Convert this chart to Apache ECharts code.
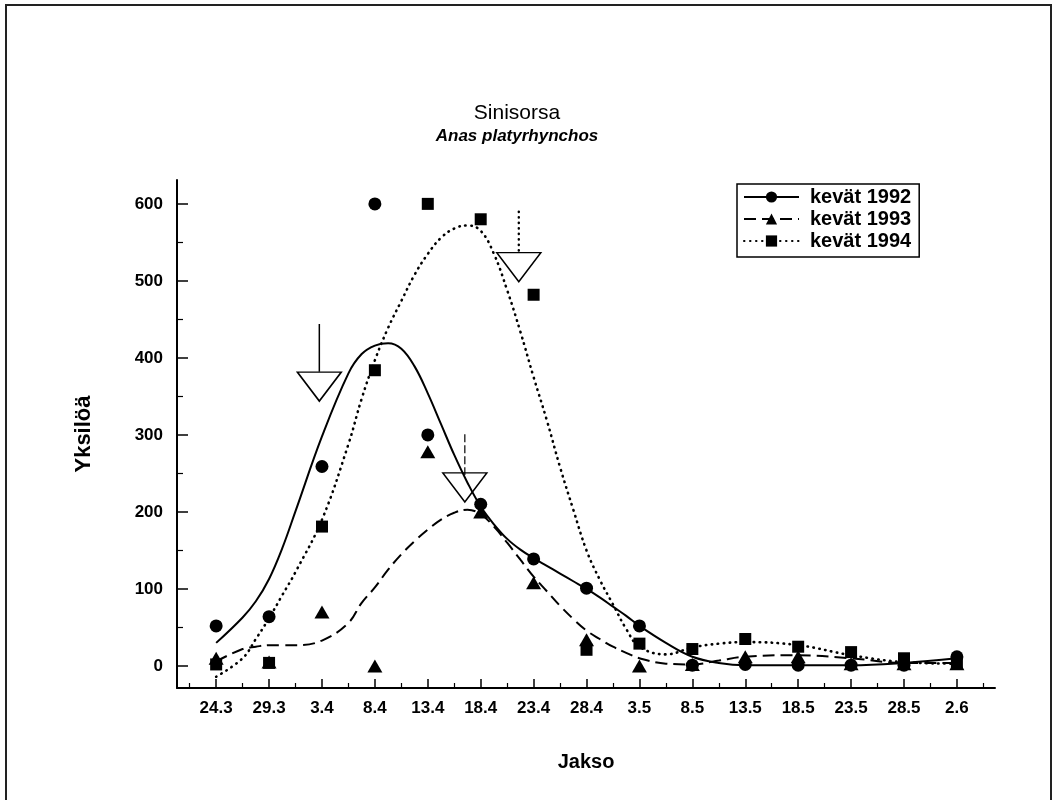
<!DOCTYPE html>
<html><head><meta charset="utf-8">
<script src="https://cdn.jsdelivr.net/npm/echarts@6/dist/echarts.min.js"></script>
<style>html,body{margin:0;padding:0;background:#fff}#c{width:1058px;height:800px}</style>
</head><body><div id="c"></div>
<script>
// ---- data ----
const categories = ['24.3','29.3','3.4','8.4','13.4','18.4','23.4','28.4','3.5','8.5','13.5','18.5','23.5','28.5','2.6'];
const yTickValues = [0, 100, 200, 300, 400, 500, 600];
const yMinorTickValues = [50, 150, 250, 350, 450, 550];

// observed counts (markers)
const obs1992 = [52, 64, 259, 600, 300, 210, 139, 101, 52, 1, 2, 1, 1, 1, 12];
const obs1993 = [10, 5, 70, 0, 278, 200, 108, 34, 0, 2, 12, 12, 3, 3, 3];
const obs1994 = [2, 4, 181, 384, 600, 580, 482, 21, 29, 22, 35, 25, 18, 10, 4];

// fitted curves at these category positions
const curveAt   = [0, 0.5, 0.75, 1, 1.25, 1.5, 2, 2.5, 2.75, 3, 3.25, 3.5, 3.75, 4, 4.25, 4.5, 4.75, 5, 5.25, 5.5, 5.75, 6, 6.25, 6.5, 6.75, 7, 7.25, 7.5, 7.75, 8, 8.5, 9, 9.5, 10, 11, 12, 13, 14];
const curve1992 = [30, 63, 84, 113, 153, 201, 298, 380, 405, 416, 419, 412, 389, 354, 314, 274, 238, 207, 184, 165, 151, 140, 130, 120, 110, 100, 89, 77, 65, 52, 30, 12, 4, 1, 1, 1, 4, 10];
const curve1993 = [6, 22, 25, 27, 27, 27, 33, 56, 82, 102, 125, 145, 162, 177, 190, 199, 203, 197, 181, 160, 138, 116, 97, 78, 61, 46, 35, 25, 17, 10, 3, 2, 7, 12, 14, 10, 4, 4];
const curve1994 = [-14, 10, 35, 62, 92, 122, 190, 288, 347, 397, 439, 474, 508, 535, 556, 568, 572, 565, 535, 488, 434, 375, 319, 258, 203, 150, 112, 80, 48, 25, 15, 24, 29, 31, 27, 14, 5, 3];

// arrows (category position, stem top, triangle top, tip) in data units
const arrowAt      = [1.95, 4.70, 5.72];
const arrowStemTop = [444, 301, 590];
const arrowTriTop  = [382, 248, 536];
const arrowTip     = [344, 213, 499];

const seriesNames = ['kevät 1992', 'kevät 1993', 'kevät 1994'];

// ---- chart ----
const FONT = '"Liberation Sans", Arial, Helvetica, sans-serif';
const catIdx = categories.map((_, i) => i);
const minorX = categories.map((_, i) => i - 0.5).concat([categories.length - 0.5]);
const zip = (xs, ys) => xs.map((x, i) => [x, ys[i]]);
const obsPts = arr => arr.map((v, i) => [i, v]);

const X_MIN = -0.74, X_MAX = 14.72, Y_MIN = -28.6, Y_MAX = 631;

const stemStyles = [
  {type: 'solid', width: 1.5},
  {type: [8, 3], width: 1.2},
  {type: [0.5, 5], width: 2.4, cap: 'round'}
];

const stems = arrowAt.map((x, i) => ({
  type: 'line', silent: true, symbol: 'none', z: 4,
  data: [[x, arrowStemTop[i]], [x, arrowTriTop[i]]],
  lineStyle: Object.assign({color: '#000'}, stemStyles[i])
}));

const markerStyle = {color: '#000', opacity: 1};

const chart = echarts.init(document.getElementById('c'), null, {renderer: 'canvas'});
chart.setOption({
  animation: false,
  backgroundColor: '#fff',
  graphic: [{
    type: 'rect', silent: true, z: -1,
    shape: {x: 6, y: 5, width: 1045, height: 830},
    style: {fill: 'none', stroke: '#222', lineWidth: 2}
  }],
  title: {
    text: 'Sinisorsa', subtext: 'Anas platyrhynchos',
    left: 512, top: 98, textAlign: 'center', itemGap: 4,
    textStyle: {fontSize: 21, fontWeight: 'normal', color: '#000', fontFamily: FONT},
    subtextStyle: {fontSize: 17, fontWeight: 'bold', fontStyle: 'italic', color: '#000', fontFamily: FONT}
  },
  legend: {
    data: seriesNames, orient: 'vertical', left: 737, top: 184,
    itemWidth: 55, itemHeight: 14, itemGap: 2, selectedMode: false,
    borderColor: '#000', borderWidth: 1.5, padding: [3, 8, 6, 6],
    textStyle: {fontSize: 20, fontWeight: 'bold', color: '#000', fontFamily: FONT, lineHeight: 16, padding: [0, 0, 0, 6]}
  },
  grid: {left: 177, right: 63, top: 180, bottom: 112},
  xAxis: [{
    type: 'value', min: X_MIN, max: X_MAX, position: 'bottom',
    axisLine: {onZero: false, lineStyle: {color: '#000', width: 2}},
    axisTick: {customValues: catIdx, inside: true, length: 9, lineStyle: {color: '#000', width: 1.5}},
    axisLabel: {customValues: catIdx, formatter: v => categories[Math.round(v)], fontSize: 17, fontWeight: 'bold', color: '#000', margin: 12, fontFamily: FONT},
    splitLine: {show: false},
    name: 'Jakso', nameLocation: 'middle', nameGap: 64,
    nameTextStyle: {fontSize: 20, fontWeight: 'bold', color: '#000', fontFamily: FONT}
  }, {
    type: 'value', min: X_MIN, max: X_MAX, position: 'bottom', offset: 0,
    axisLine: {show: false, onZero: false},
    axisTick: {customValues: minorX, inside: true, length: 5, lineStyle: {color: '#000', width: 1.2}},
    axisLabel: {show: false}, splitLine: {show: false}
  }],
  yAxis: [{
    type: 'value', min: Y_MIN, max: Y_MAX, position: 'left',
    axisLine: {show: true, onZero: false, lineStyle: {color: '#000', width: 2}},
    axisTick: {show: true, customValues: yTickValues, inside: true, length: 11, lineStyle: {color: '#000', width: 1.5}},
    axisLabel: {customValues: yTickValues, fontSize: 17, fontWeight: 'bold', color: '#000', margin: 14, fontFamily: FONT},
    splitLine: {show: false},
    name: 'Yksilöä', nameLocation: 'middle', nameGap: 82, nameRotate: 90,
    nameTextStyle: {fontSize: 22, fontWeight: 'bold', color: '#000', fontFamily: FONT}
  }, {
    type: 'value', min: Y_MIN, max: Y_MAX, position: 'left', offset: 0,
    axisLine: {show: false, onZero: false},
    axisTick: {show: true, customValues: yMinorTickValues, inside: true, length: 6, lineStyle: {color: '#000', width: 1.2}},
    axisLabel: {show: false}, splitLine: {show: false}
  }],
  series: [
    {name: seriesNames[0], type: 'line', data: zip(curveAt, curve1992), smooth: 0.4, symbol: 'circle', showSymbol: false, silent: true, z: 2,
     lineStyle: {color: '#000', width: 2, type: 'solid'}, itemStyle: markerStyle},
    {name: seriesNames[1], type: 'line', data: zip(curveAt, curve1993), smooth: 0.4, symbol: 'triangle', showSymbol: false, silent: true, z: 2,
     lineStyle: {color: '#000', width: 2, type: [12, 6]}, itemStyle: markerStyle},
    {name: seriesNames[2], type: 'line', data: zip(curveAt, curve1994), smooth: 0.4, symbol: 'rect', showSymbol: false, silent: true, z: 2,
     lineStyle: {color: '#000', width: 2.6, type: [0.5, 5.5], cap: 'round'}, itemStyle: markerStyle},
    {name: seriesNames[1], type: 'scatter', data: obsPts(obs1993), symbol: 'triangle', symbolSize: [15, 13], z: 3, itemStyle: markerStyle},
    {name: seriesNames[0], type: 'scatter', data: obsPts(obs1992), symbol: 'circle', symbolSize: 13, z: 3, itemStyle: markerStyle},
    {name: seriesNames[2], type: 'scatter', data: obsPts(obs1994), symbol: 'rect', symbolSize: 12, z: 3, itemStyle: markerStyle},
    ...stems,
    {type: 'scatter', silent: true, z: 4, data: zip(arrowAt, arrowTip),
     symbol: 'path://M0,0L44,0L22,29Z', symbolSize: [44, 29], symbolOffset: [0, '-50%'],
     itemStyle: {color: 'rgba(0,0,0,0)', borderColor: '#000', borderWidth: 1.5, opacity: 1}}
  ]
});
</script>
</body></html>
